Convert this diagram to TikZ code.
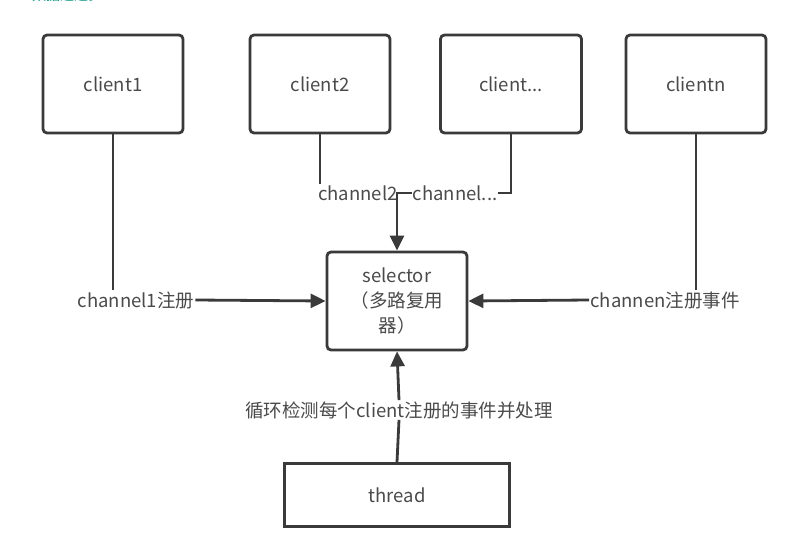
\documentclass[tikz,border=0pt]{standalone}
\usepackage{fontspec}
\setmainfont{Noto Sans CJK SC}
\usetikzlibrary{arrows.meta}
\definecolor{ln}{HTML}{3A3A3A}
\definecolor{tx}{HTML}{4A4A4A}
\definecolor{grn}{HTML}{1A9A8A}
\tikzset{
  box/.style={draw=ln, line width=2.8pt, rounded corners=4pt, minimum width=140pt, minimum height=98pt, text=tx, font=\fontsize{18.5}{22}\selectfont},
  sqbox/.style={draw=ln, line width=2.8pt, minimum width=225pt, minimum height=63pt, text=tx, font=\fontsize{18.5}{22}\selectfont},
  lbl/.style={text=tx, inner sep=1pt, font=\fontsize{18.5}{22}\selectfont},
  wire/.style={draw=ln, line width=2.8pt},
  arr/.style={wire, -{Triangle[length=15pt,width=14pt]}}
}
\begin{document}
\begin{tikzpicture}[x=1pt,y=-1pt]
\useasboundingbox (0,0) rectangle (793,546);
\node[anchor=base west, text=grn, font=\fontsize{14}{16}\selectfont, inner sep=0] (top) at (32,1) {数据通道。};
\node[box] (c1) at (113,84) {client1};
\node[box] (c2) at (320,84) {client2};
\node[box, minimum width=141pt] (c3) at (511,84) {client...};
\node[box] (cn) at (696,84) {clientn};
\node[box, align=center, text width=110pt, font=\fontsize{18.5}{25}\selectfont] (sel) at (397,301) {selector\\（多路复用\\器）};
\node[sqbox] (thr) at (397,495) {thread};
\node[lbl] (ch2) at (358,193) {channel2};
\node[lbl] (chd) at (455,193) {channel...};
\node[lbl] (ch1) at (136,300) {channel1注册};
\node[lbl] (chn) at (665,300) {channen注册事件};
\node[lbl] (loop) at (399,410) {循环检测每个client注册的事件并处理};
\draw[wire] (c1.south) -- (c1.south |- ch1.north);
\draw[arr] (ch1.east) -- (sel.west);
\draw[wire] (c2.south) -- (c2.south |- ch2.north);
\draw[wire] (c3.south) |- (chd.east);
\draw[arr] (chd.west) -| (sel.north);
\draw[wire] (cn.south) -- (cn.south |- chn.north);
\draw[arr] (chn.west) -- (sel.east);
\draw[wire] (thr.north) -- (loop.south);
\draw[arr] (loop.north) -- (sel.south);
\end{tikzpicture}
\end{document}
